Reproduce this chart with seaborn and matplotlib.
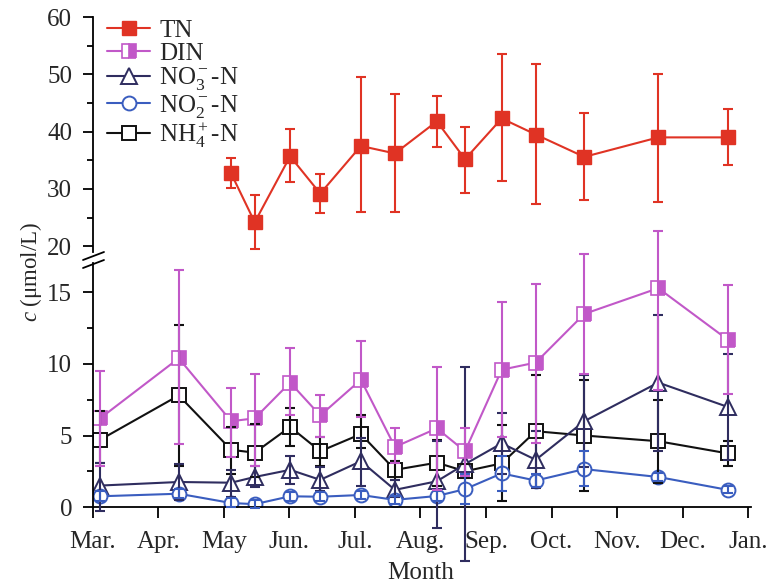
import numpy as np
import pandas as pd
import matplotlib
matplotlib.use("Agg")
import matplotlib.pyplot as plt
import seaborn as sns
from matplotlib.lines import Line2D

# ---------------- data ----------------
month_labels = ["Mar.", "Apr.", "May", "Jun.", "Jul.", "Aug.", "Sep.",
                "Oct.", "Nov.", "Dec.", "Jan."]
# sampling positions (in months from March)
sample_pos = [0.11, 1.31, 2.11, 2.47, 3.01, 3.47, 4.09, 4.61, 5.25, 5.68,
              6.24, 6.76, 7.50, 8.63, 9.69]

# TN starts from the third sampling
tn = [32.7, 24.2, 35.7, 29.2, 37.5, 36.2, 41.8, 35.2, 42.3, 39.5, 35.6, 39.0, 39.0]
tn_lo = [30.1, 19.6, 31.2, 25.8, 26.0, 26.0, 37.3, 29.3, 31.4, 27.3, 28.0, 27.8, 34.1]
tn_hi = [35.4, 28.9, 40.4, 32.6, 49.5, 46.5, 46.2, 40.8, 53.5, 51.8, 43.2, 50.0, 43.9]

din = [6.2, 10.4, 6.0, 6.2, 8.7, 6.4, 8.9, 4.2, 5.5, 3.9, 9.6, 10.1, 13.5, 15.3, 11.7]
din_lo = [2.9, 4.4, 3.5, 2.9, 6.4, 4.9, 6.3, 3.1, 1.2, 2.2, 4.9, 4.5, 9.3, 8.2, 7.9]
din_hi = [9.5, 16.6, 8.3, 9.3, 11.1, 7.8, 11.6, 5.5, 9.8, 5.5, 14.3, 15.6, 17.7, 19.3, 15.5]

no3 = [1.5, 1.75, 1.7, 2.1, 2.6, 1.9, 3.2, 1.2, 1.8, 3.0, 4.45, 3.3, 6.0, 8.7, 7.0]
no3_lo = [-0.3, 0.5, 0.7, 1.4, 1.6, 1.1, 1.5, 0.7, -1.5, -3.8, 2.3, 1.3, 2.8, 3.9, 3.3]
no3_hi = [3.1, 3.0, 2.6, 2.9, 3.6, 2.8, 4.8, 1.9, 4.6, 9.8, 6.6, 5.3, 9.2, 13.4, 10.7]

no2 = [0.75, 0.93, 0.28, 0.2, 0.75, 0.72, 0.84, 0.5, 0.77, 1.25, 2.35, 1.85, 2.65, 2.1, 1.2]
no2_lo = [0.4, 0.6, 0.0, -0.1, 0.45, 0.4, 0.55, 0.2, 0.45, 0.2, 1.1, 1.4, 1.5, 1.8, 0.95]
no2_hi = [1.1, 1.25, 0.6, 0.5, 1.05, 1.05, 1.15, 0.8, 1.1, 2.3, 3.6, 2.3, 3.9, 2.4, 1.45]

nh4 = [4.7, 7.8, 4.0, 3.8, 5.6, 3.9, 5.1, 2.6, 3.1, 2.5, 3.05, 5.3, 5.0, 4.6, 3.75]
nh4_lo = [3.1, 2.9, 2.3, 2.1, 4.3, 2.9, 4.1, 1.9, 1.5, 2.0, 0.4, 1.4, 1.1, 1.7, 2.9]
nh4_hi = [6.7, 12.7, 5.6, 5.8, 6.9, 4.9, 6.4, 3.2, 4.7, 3.0, 5.7, 9.2, 8.9, 7.5, 4.6]

# ---------------- style ----------------
sns.set_style("ticks")
plt.rcParams["font.family"] = ["Liberation Serif", "DejaVu Serif"]
plt.rcParams["mathtext.fontset"] = "custom"
plt.rcParams["mathtext.rm"] = "Liberation Serif"
plt.rcParams["mathtext.it"] = "Liberation Serif:italic"
plt.rcParams["mathtext.bf"] = "Liberation Serif:bold"

C_TN = "#e03324"
C_DIN = "#c158c8"
C_NO3 = "#2f2d5f"
C_NO2 = "#3a5dbf"
C_NH4 = "#111111"

FS = 18
LW = 1.5

fig = plt.figure(figsize=(7.68, 5.85), dpi=100)
ax_top = fig.add_axes([0.121, 0.5692, 0.853, 0.4017])
ax_bot = fig.add_axes([0.121, 0.1333, 0.853, 0.4171])

pos = np.array(sample_pos)
tn_pos = pos[2:]


def draw(ax, x, y, lo, hi, color, label, **mk):
    df = pd.DataFrame({"x": x, "y": y})
    sns.lineplot(data=df, x="x", y="y", ax=ax, color=color, lw=LW,
                 label=label, legend=False, zorder=2, **mk)
    y = np.asarray(y)
    yerr = [y - np.asarray(lo), np.asarray(hi) - y]
    cont = ax.errorbar(x, y, yerr=yerr, fmt="none", ecolor=color,
                       elinewidth=LW, capsize=3.6, capthick=LW, zorder=3)
    for art in list(cont.lines[1]) + list(cont.lines[2]):
        art.set_clip_on(False)


draw(ax_top, tn_pos, tn, tn_lo, tn_hi, C_TN, "TN",
     marker="s", markersize=9.5, markerfacecolor=C_TN,
     markeredgecolor=C_TN, markeredgewidth=1.0)

draw(ax_bot, pos, nh4, nh4_lo, nh4_hi, C_NH4, r"NH$_4^+$-N",
     marker="s", markersize=10, markerfacecolor="white",
     markeredgecolor=C_NH4, markeredgewidth=1.4)
draw(ax_bot, pos, no3, no3_lo, no3_hi, C_NO3, r"NO$_3^-$-N",
     marker="^", markersize=11.5, markerfacecolor="white",
     markeredgecolor=C_NO3, markeredgewidth=1.4)
draw(ax_bot, pos, no2, no2_lo, no2_hi, C_NO2, r"NO$_2^-$-N",
     marker="o", markersize=10, markerfacecolor="white",
     markeredgecolor=C_NO2, markeredgewidth=1.4)
draw(ax_bot, pos, din, din_lo, din_hi, C_DIN, "DIN",
     marker="s", markersize=9.5, markerfacecolor=C_DIN, fillstyle="right",
     markerfacecoloralt="white", markeredgecolor=C_DIN, markeredgewidth=1.2)

# ---------------- axes ----------------
for ax in (ax_top, ax_bot):
    ax.set_xlim(0, 10)
    ax.set_xlabel("")
    ax.set_ylabel("")
    for s in ax.spines.values():
        s.set_linewidth(1.3)
        s.set_color("black")
    ax.spines["right"].set_visible(False)
    ax.spines["top"].set_visible(False)
    ax.tick_params(axis="both", which="major", direction="out", length=7,
                   width=1.3, labelsize=FS, color="black", pad=3)
    ax.tick_params(axis="y", which="major", pad=8)
    ax.tick_params(axis="y", which="minor", direction="out", length=4,
                   width=1.3, color="black")

ax_top.set_ylim(19, 60)
ax_top.set_yticks([20, 30, 40, 50, 60])
ax_top.set_yticks([25, 35, 45, 55], minor=True)
ax_top.spines["bottom"].set_visible(False)
ax_top.set_xticks([])
ax_top.tick_params(axis="x", which="both", bottom=False, labelbottom=False)

ax_bot.set_ylim(0, 17.06)
ax_bot.set_yticks([0, 5, 10, 15])
ax_bot.set_yticks([2.5, 7.5, 12.5], minor=True)
ax_bot.set_xticks(range(len(month_labels)))
ax_bot.set_xticklabels(month_labels)
ax_bot.tick_params(axis="x", which="major", length=8, pad=9)
ax_bot.spines["bottom"].set_bounds(0, 10.05)
ax_bot.set_xlabel("Month", fontsize=FS, labelpad=7)

fig.text(0.04, 0.535, r"$c$ ($\mathrm{\mu}$mol/L)", rotation=90,
         fontsize=16.5, ha="center", va="center")

# axis break marks
for yy in (256, 264):
    fig.add_artist(Line2D([83 / 768, 104 / 768],
                          [1 - (yy + 4) / 585, 1 - (yy - 4) / 585],
                          transform=fig.transFigure, color="black", lw=1.3))

# ---------------- legend ----------------
h_top, l_top = ax_top.get_legend_handles_labels()
h_bot, l_bot = ax_bot.get_legend_handles_labels()
hd = dict(zip(l_top + l_bot, h_top + h_bot))
order = ["TN", "DIN", r"NO$_3^-$-N", r"NO$_2^-$-N", r"NH$_4^+$-N"]
ax_top.legend([hd[k] for k in order], order, loc="upper left",
              bbox_to_anchor=(0.021, 0.99), frameon=False, fontsize=FS,
              handlelength=1.75, handletextpad=0.35, labelspacing=0.02,
              borderaxespad=0, borderpad=0)

fig.savefig("out.png", dpi=100)
